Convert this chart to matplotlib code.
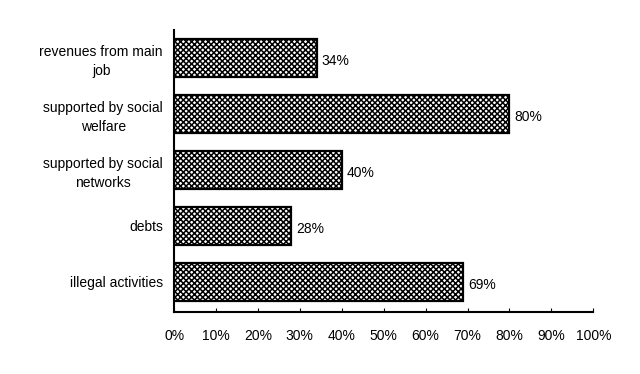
import matplotlib
matplotlib.use("Agg")
import matplotlib.pyplot as plt

categories = ["revenues from main\njob", "supported by social\nwelfare",
              "supported by social\nnetworks", "debts", "illegal activities"]
values = [34, 80, 40, 28, 69]
xticks = [0, 10, 20, 30, 40, 50, 60, 70, 80, 90, 100]
xtick_labels = [f"{t}%" for t in xticks]

plt.rcParams['font.family'] = ['Liberation Sans', 'DejaVu Sans']
plt.rcParams['hatch.linewidth'] = 1.1

fig = plt.figure(figsize=(6.4, 3.74), dpi=100)
ax = fig.add_axes([0.272, 0.166, 0.655, 0.754])

pos = list(range(len(categories)))
ax.barh(pos, values, height=0.68, color='white', edgecolor='black',
        hatch='xxxxxx', linewidth=1.6)
for p, v in zip(pos, values):
    ax.text(v + 1.2, p + 0.05, f"{v}%", va='center', ha='left', fontsize=10)

ax.set_xlim(0, 100)
ax.set_ylim(4.536, -0.5)
ax.set_yticks(pos)
ax.set_yticklabels(categories, fontsize=10, ha='right', multialignment='center',
                   linespacing=1.45)
ax.tick_params(axis='y', length=0, pad=8)
ax.set_xticks(xticks)
ax.set_xticklabels(xtick_labels, fontsize=10)
ax.tick_params(axis='x', direction='in', length=3, pad=12)
for s in ['top', 'right']:
    ax.spines[s].set_visible(False)
ax.spines['left'].set_linewidth(1.5)
ax.spines['bottom'].set_linewidth(1.5)

fig.savefig("out.png", dpi=100)
